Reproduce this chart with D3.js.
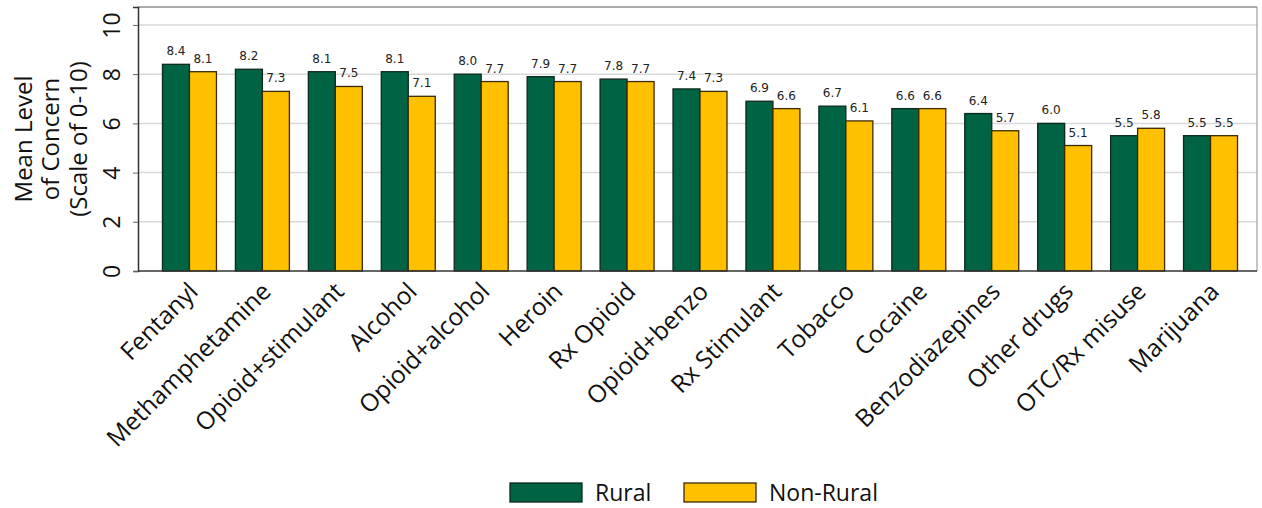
<!DOCTYPE html>
<html><head><meta charset="utf-8">
<script src="https://cdn.jsdelivr.net/npm/d3@7"></script>
<style>body{margin:0;background:#fff}svg{display:block}</style>
</head><body>
<svg id="c" width="1262" height="508"></svg>
<script>
const categories = ["Fentanyl","Methamphetamine","Opioid+stimulant","Alcohol","Opioid+alcohol","Heroin","Rx Opioid","Opioid+benzo","Rx Stimulant","Tobacco","Cocaine","Benzodiazepines","Other drugs","OTC/Rx misuse","Marijuana"];
const rural = [8.4,8.2,8.1,8.1,8.0,7.9,7.8,7.4,6.9,6.7,6.6,6.4,6.0,5.5,5.5];
const nonRural = [8.1,7.3,7.5,7.1,7.7,7.7,7.7,7.3,6.6,6.1,6.6,5.7,5.1,5.8,5.5];
const seriesNames = ["Rural","Non-Rural"];
const yTicks = [0,2,4,6,8,10];

const colors = ["#006343","#FFC000"];
const strokes = ["#0d2a1c","#3a2a00"];
const svg = d3.select("#c");
const L = 138, R = 1257, T = 7, B = 271;
const y = d3.scaleLinear().domain([0,10.73]).range([B,T]);
const x0 = d3.scaleBand().domain(categories).range([153,1247]).paddingInner(0.26).paddingOuter(0.13);
const x1 = d3.scaleBand().domain(seriesNames).range([0,x0.bandwidth()]);
const font = "'Open Sans', 'Noto Sans', sans-serif";

// grid
svg.append("g").selectAll("line").data(yTicks.filter(d=>d>0)).join("line")
  .attr("x1",L).attr("x2",R).attr("y1",d=>y(d)).attr("y2",d=>y(d))
  .attr("stroke","#d9d9d9").attr("stroke-width",1.5);
// border
svg.append("line").attr("x1",L).attr("x2",R).attr("y1",T).attr("y2",T).attr("stroke","#595959").attr("stroke-width",1);
svg.append("line").attr("x1",R).attr("x2",R).attr("y1",T).attr("y2",B).attr("stroke","#8c8c8c").attr("stroke-width",1);

// bars
const data = categories.map((c,i)=>({c, vals:[rural[i],nonRural[i]]}));
const g = svg.append("g").selectAll("g").data(data).join("g")
  .attr("transform",d=>`translate(${x0(d.c)},0)`);
g.selectAll("rect").data(d=>d.vals.map((v,j)=>({v,s:seriesNames[j],j}))).join("rect")
  .attr("x",d=>x1(d.s)).attr("width",x1.bandwidth())
  .attr("y",d=>y(d.v)).attr("height",d=>B-y(d.v))
  .attr("fill",d=>colors[d.j]).attr("stroke",d=>strokes[d.j]).attr("stroke-width",1.3);
g.selectAll("text").data(d=>d.vals.map((v,j)=>({v,s:seriesNames[j],j}))).join("text")
  .attr("x",d=>x1(d.s)+x1.bandwidth()/2).attr("y",d=>y(d.v)-9)
  .attr("text-anchor","middle").attr("font-family","'DejaVu Sans', sans-serif").attr("font-size",12)
  .attr("fill","#222").text(d=>d.v.toFixed(1));

// axes
const yAxis = d3.axisLeft(y).tickValues(yTicks).tickSize(5).tickFormat(d3.format("d"));
const ya = svg.append("g").attr("transform",`translate(${L},0)`).call(yAxis);
ya.select(".domain").attr("stroke","#333").attr("stroke-width",1.5);
ya.selectAll(".tick line").attr("stroke","#666");
ya.selectAll(".tick text").attr("font-family",font).attr("font-size",23).attr("fill","#111")
  .attr("x",0).attr("text-anchor","middle").attr("dy","0.35em")
  .attr("transform","translate(-26,0) rotate(-90)");

const xAxis = d3.axisBottom(x0).tickSize(0).tickSizeOuter(0);
const xa = svg.append("g").attr("transform",`translate(0,${B})`).call(xAxis);
xa.select(".domain").remove();
svg.append("line").attr("x1",L).attr("x2",R).attr("y1",B).attr("y2",B).attr("stroke","#333").attr("stroke-width",1.5);
xa.selectAll(".tick text").attr("font-family",font).attr("font-size",24.5).attr("fill","#111")
  .attr("text-anchor","end").attr("dy",0).attr("y",0)
  .attr("transform","translate(10,22) rotate(-45)");

// y title
const yt = svg.append("text").attr("transform","translate(51,139) rotate(-90)")
  .attr("text-anchor","middle").attr("font-family",font).attr("font-size",24).attr("fill","#111");
["Mean Level","of Concern","(Scale of 0-10)"].forEach((t,i)=>{
  yt.append("tspan").attr("x",0).attr("y",(i-1)*27.5+8).text(t);
});

// legend
const lx = [510,684];
seriesNames.forEach((s,i)=>{
  svg.append("rect").attr("x",lx[i]).attr("y",483).attr("width",72).attr("height",19)
    .attr("fill",colors[i]).attr("stroke",strokes[i]).attr("stroke-width",1.3);
  svg.append("text").attr("x",lx[i]+85).attr("y",501).attr("font-family",font).attr("font-size",23)
    .attr("fill","#111").text(s);
});
</script>
</body></html>
